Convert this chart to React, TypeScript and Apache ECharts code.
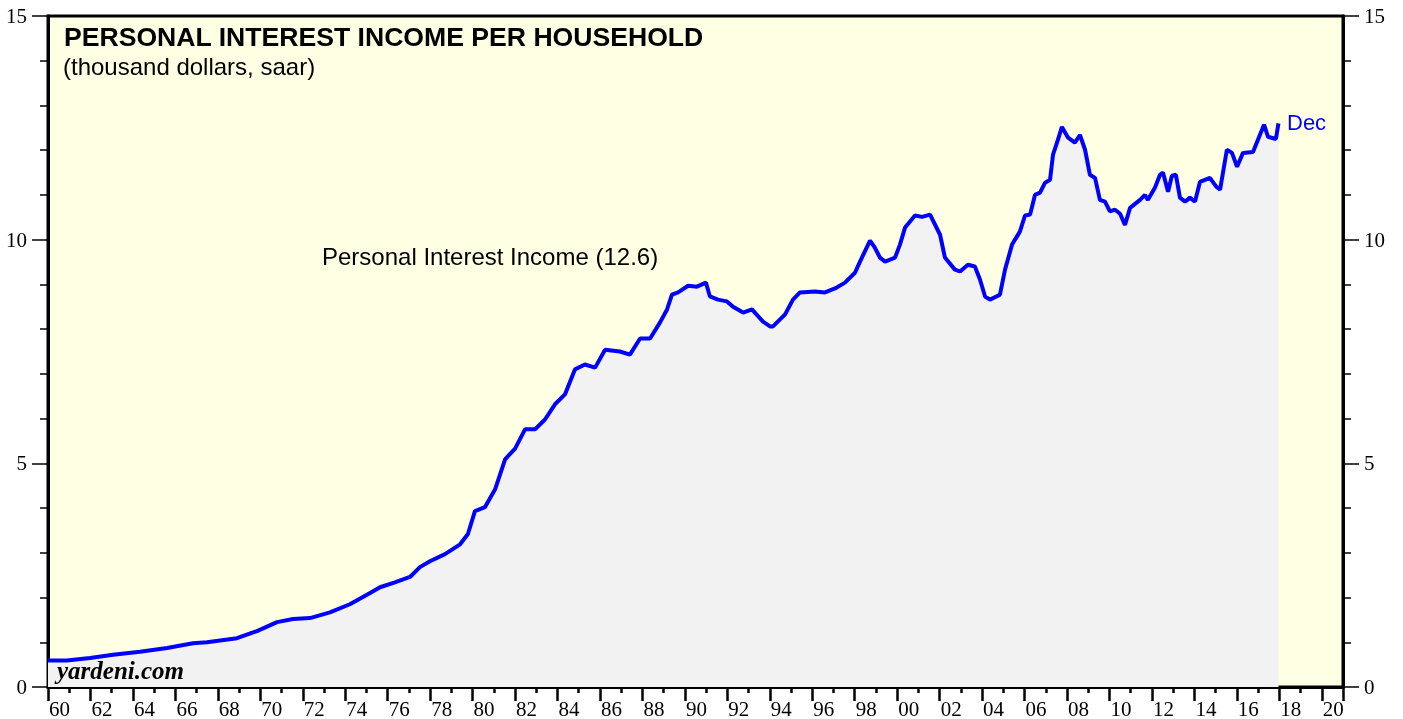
import React, { useEffect, useRef } from "react";
import * as echarts from "echarts";

// Time (fractional year) and value (thousand dollars, saar)
const years: number[] = [
  1960.0, 1960.88, 1961.98, 1963.06, 1964.33, 1965.61, 1966.83, 1967.49, 1968.9, 1969.84,
  1970.79, 1971.54, 1972.34, 1973.28, 1974.22, 1975.17, 1975.64, 1976.34, 1977.05, 1977.52,
  1977.99, 1978.7, 1979.41, 1979.78, 1980.11, 1980.58, 1981.06, 1981.53, 1982.0, 1982.47,
  1982.94, 1983.41, 1983.88, 1984.35, 1984.82, 1985.29, 1985.77, 1986.24, 1986.94, 1987.41,
  1987.89, 1988.36, 1988.83, 1989.16, 1989.39, 1989.68, 1990.15, 1990.57, 1990.99, 1991.18,
  1991.56, 1991.98, 1992.27, 1992.74, 1993.16, 1993.68, 1994.01, 1994.15, 1994.72, 1995.09,
  1995.42, 1996.13, 1996.6, 1997.07, 1997.54, 1998.01, 1998.25, 1998.72, 1998.95, 1999.19,
  1999.43, 1999.9, 2000.13, 2000.37, 2000.84, 2001.17, 2001.55, 2002.02, 2002.25, 2002.72,
  2002.96, 2003.33, 2003.66, 2003.9, 2004.14, 2004.37, 2004.84, 2005.08, 2005.41, 2005.78,
  2006.02, 2006.26, 2006.49, 2006.73, 2006.96, 2007.2, 2007.34, 2007.57, 2007.76, 2008.05,
  2008.37, 2008.61, 2008.85, 2009.08, 2009.32, 2009.55, 2009.79, 2010.02, 2010.26, 2010.5,
  2010.73, 2010.97, 2011.44, 2011.67, 2011.81, 2012.14, 2012.38, 2012.52, 2012.76, 2012.94,
  2013.13, 2013.32, 2013.56, 2013.79, 2014.03, 2014.26, 2014.73, 2015.04, 2015.21, 2015.53,
  2015.77, 2016.01, 2016.29, 2016.76, 2017.28, 2017.47, 2017.84, 2017.96,
];
const income: number[] = [
  0.59, 0.59, 0.65, 0.72, 0.79, 0.87, 0.98, 1.0, 1.09, 1.25,
  1.45, 1.52, 1.54, 1.67, 1.85, 2.1, 2.23, 2.34, 2.46, 2.68,
  2.81, 2.97, 3.19, 3.42, 3.93, 4.02, 4.42, 5.09, 5.33, 5.76,
  5.76, 5.98, 6.32, 6.54, 7.1, 7.21, 7.14, 7.54, 7.5, 7.43,
  7.79, 7.79, 8.15, 8.44, 8.77, 8.82, 8.97, 8.95, 9.04, 8.73,
  8.66, 8.62, 8.5, 8.37, 8.44, 8.17, 8.06, 8.06, 8.33, 8.66,
  8.82, 8.84, 8.82, 8.91, 9.04, 9.26, 9.51, 9.98, 9.82, 9.6,
  9.51, 9.6, 9.89, 10.27, 10.54, 10.51, 10.56, 10.11, 9.6, 9.33,
  9.29, 9.44, 9.4, 9.11, 8.73, 8.66, 8.77, 9.33, 9.89, 10.18,
  10.54, 10.56, 11.0, 11.05, 11.27, 11.34, 11.9, 12.23, 12.52, 12.28,
  12.17, 12.34, 12.01, 11.45, 11.38, 10.89, 10.85, 10.63, 10.67, 10.58,
  10.33, 10.71, 10.89, 11.0, 10.89, 11.16, 11.45, 11.5, 11.07, 11.43,
  11.45, 10.94, 10.85, 10.94, 10.85, 11.29, 11.38, 11.18, 11.12, 12.01,
  11.94, 11.63, 11.94, 11.96, 12.57, 12.3, 12.25, 12.6,
];

const yTicks: number[] = [0, 5, 10, 15];
const xLabelYears: number[] = [1960, 1962, 1964, 1966, 1968, 1970, 1972, 1974, 1976, 1978, 1980, 1982, 1984, 1986, 1988, 1990, 1992, 1994, 1996, 1998, 2000, 2002, 2004, 2006, 2008, 2010, 2012, 2014, 2016, 2018, 2020];

const TITLE = "PERSONAL INTEREST INCOME PER HOUSEHOLD";
const SUBTITLE = "(thousand dollars, saar)";
const SERIES_LABEL = "Personal Interest Income (12.6)";

export default function App() {
  const ref = useRef<HTMLDivElement>(null);
  useEffect(() => {
    if (!ref.current) return;
    const chart = echarts.init(ref.current, undefined, { renderer: "svg" });
    const serif = "'Liberation Serif', 'DejaVu Serif', serif";
    const sans = "'Liberation Sans', Arial, sans-serif";
    const yAxisBase = (pos: "left" | "right") => ({
      type: "value" as const,
      position: pos,
      min: yTicks[0],
      max: yTicks[yTicks.length - 1],
      interval: 5,
      axisLine: { show: true, lineStyle: { color: "#000", width: 3 } },
      axisTick: { show: true, length: 16, lineStyle: { color: "#000", width: 1.5 } },
      minorTick: { show: true, splitNumber: 5, length: 8, lineStyle: { color: "#000", width: 1.5 } },
      splitLine: { show: false },
      axisLabel: { margin: 21, color: "#000", fontFamily: serif, fontSize: 21 },
    });
    chart.setOption({
      animation: false,
      grid: {
        left: 48,
        right: 60,
        top: 16,
        bottom: 31,
        show: true,
        backgroundColor: "#FFFFE3",
        borderColor: "#000",
        borderWidth: 3,
      },
      xAxis: {
        type: "value",
        min: 1960,
        max: 2021,
        interval: 2,
        axisLine: { show: true, lineStyle: { color: "#000", width: 3 } },
        axisTick: { show: true, length: 14, lineStyle: { color: "#000", width: 2.5 } },
        minorTick: { show: true, splitNumber: 2, length: 6, lineStyle: { color: "#000", width: 2.5 } },
        splitLine: { show: false },
        axisLabel: {
          margin: 11,
          align: "left",
          padding: [0, 0, 0, 1],
          color: "#000",
          fontFamily: serif,
          fontSize: 21,
          showMaxLabel: false,
          formatter: (v: number) =>
            xLabelYears.includes(v) ? String(v).slice(2) : "",
        },
      },
      yAxis: [yAxisBase("left"), yAxisBase("right")],
      series: [
        {
          type: "line",
          data: years.map((y, i) => [y, income[i]]),
          showSymbol: false,
          symbol: "none",
          lineStyle: { color: "#0000FF", width: 4 },
          areaStyle: { color: "#F2F2F2", opacity: 1, origin: "start" },
          z: 3,
        },
      ],
      graphic: [
        {
          type: "text",
          left: 64,
          top: 23,
          style: { text: TITLE, font: `bold 26.6px ${sans}`, fill: "#000" },
        },
        {
          type: "text",
          left: 63,
          top: 54,
          style: { text: SUBTITLE, font: `24px ${sans}`, fill: "#000" },
        },
        {
          type: "text",
          left: 322,
          top: 244,
          style: { text: SERIES_LABEL, font: `24px ${sans}`, fill: "#000" },
        },
        {
          type: "text",
          left: 1287,
          top: 111,
          style: { text: "Dec", font: `22px ${sans}`, fill: "#0000FF" },
        },
        {
          type: "text",
          left: 57,
          top: 658,
          z: 10,
          style: { text: "yardeni.com", font: `italic bold 25px ${serif}`, fill: "#000" },
        },
      ],
    });
    return () => chart.dispose();
  }, []);
  return (
    <div
      ref={ref}
      style={{ position: "fixed", left: 0, top: 0, width: 1403, height: 719 }}
    />
  );
}
